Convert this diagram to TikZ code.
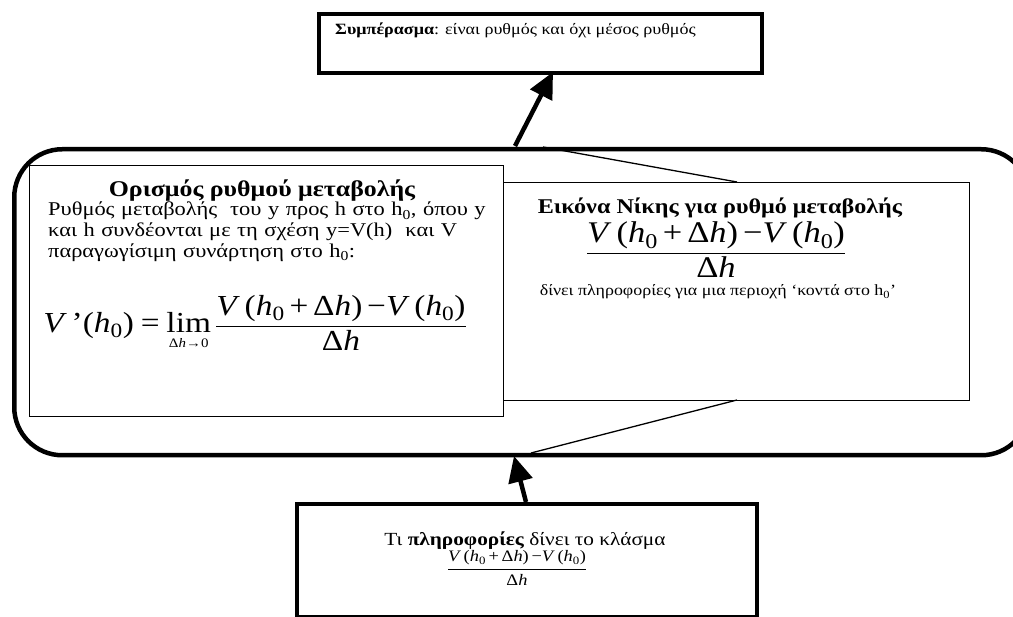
\documentclass[tikz,border=0pt]{standalone}
\usepackage{amsmath}
\usepackage{fontspec}
\setmainfont[FakeStretch=1.15]{Liberation Serif}
\usetikzlibrary{arrows.meta}
\newcommand{\hz}{\textit{h}\textsubscript{0}}
\newcommand{\numer}{\textit{V}\,(\hz\,+\,Δ\textit{h})\,−\textit{V}\,(\hz)}
\newcommand{\denom}{Δ\textit{h}}
\tikzset{
  thickbox/.style={draw, line width=4pt, fill=white, inner sep=0pt, anchor=north west},
  thinbox/.style={draw, line width=1.3pt, fill=white, inner sep=0pt, anchor=north west},
  groupbox/.style={draw, line width=4.5pt, rounded corners=48pt, inner sep=0pt, anchor=north west},
  bigarrow/.style={line width=4.5pt, -{Triangle[length=26pt,width=24pt]}},
  callout/.style={line width=1.3pt},
  txt/.style={inner sep=0pt},
}
\begin{document}
\begin{tikzpicture}[x=1pt,y=-1pt]
\useasboundingbox (0,0) rectangle (1013,617);
% outer group
\node[groupbox, minimum width=1015pt, minimum height=306pt] (group) at (12,147) {};
% callout lines
\coordinate (gtop) at (543,147);
\coordinate (gbot) at (531,453);
\node[thinbox, minimum width=479pt, minimum height=218pt] (imgbox) at (490,182) {};
\coordinate (itop) at (737,182);
\coordinate (ibot) at (737,400);
\draw[callout] (gtop) -- (itop);
\draw[callout] (ibot) -- (gbot);
\node[thinbox, minimum width=474pt, minimum height=251pt] (defbox) at (29,165) {};
% top conclusion
\node[thickbox, minimum width=443pt, minimum height=59pt] (concl) at (317,12) {};
\node[txt, anchor=base west, font=\fontsize{15.7}{19}\selectfont] (concltxt) at (335,35)
  {\textbf{Συμπέρασμα}: είναι ρυθμός και όχι μέσος ρυθμός};
% bottom info
\node[thickbox, minimum width=460pt, minimum height=113pt] (info) at (295,502) {};
\node[txt, anchor=base, font=\fontsize{18.5}{21}\selectfont] (infotxt) at (525,546)
  {Τι \textbf{πληροφορίες} δίνει το κλάσμα};
\node[txt, font=\fontsize{16}{16}\selectfont] (infofrac) at (517,568)
  {$\displaystyle\frac{\text{\numer}}{\text{\denom}}$};
% definition box texts
\node[txt, anchor=base, font=\fontsize{22.5}{24}\selectfont\bfseries] (deftitle) at (262,197)
  {Ορισμός ρυθμού μεταβολής};
\node[txt, anchor=north west, text width=449pt, align=left, font=\fontsize{19.5}{20.8}\selectfont] (defbody) at (48,202)
  {\makebox[\linewidth][s]{Ρυθμός μεταβολής \ του y προς h στο h\textsubscript{0}, όπου y}\\
   \makebox[\linewidth][s]{και h συνδέονται με τη σχέση y=V(h) \ και V}\\
   \makebox[\linewidth][s]{παραγωγίσιμη συνάρτηση στο h\textsubscript{0}:}};
\node[txt, font=\fontsize{29}{29}\selectfont] (deff) at (255,323)
  {$\displaystyle \text{\textit{V}\,'(\hz)}\mathrel{\text{=}}\mathop{\text{lim}}\limits_{\text{\fontsize{13}{13}\selectfont Δ\textit{h}→0}}\frac{\text{\numer}}{\text{\denom}}$};
% image box texts
\node[txt, anchor=base, font=\fontsize{21}{24}\selectfont\bfseries] (imgtitle) at (720,214)
  {Εικόνα Νίκης για ρυθμό μεταβολής};
\node[txt, font=\fontsize{30}{30}\selectfont] (imgfrac) at (716,250)
  {$\displaystyle\frac{\text{\numer}}{\text{\denom}}$};
\node[txt, anchor=base, font=\fontsize{15.6}{19}\selectfont] (imgtxt) at (718,296)
  {δίνει πληροφορίες για μια περιοχή ‘κοντά στο h\textsubscript{0}’};
% arrows
\coordinate (a1s) at (515,146);
\coordinate (a1e) at (553,72);
\coordinate (a2s) at (526,502);
\coordinate (a2e) at (514,456);
\draw[bigarrow] (a1s) -- (a1e);
\draw[bigarrow] (a2s) -- (a2e);
\end{tikzpicture}
\end{document}
